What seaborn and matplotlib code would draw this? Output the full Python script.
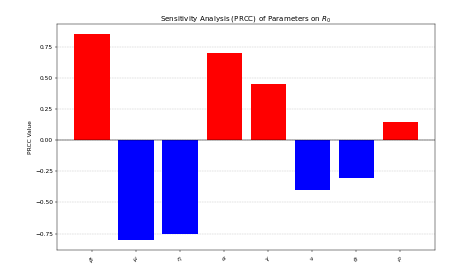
import matplotlib
matplotlib.use('Agg')
import matplotlib.pyplot as plt
import seaborn as sns

params = [r'$\beta$', r'$\mu$', r'$\eta$', r'$\alpha$', r'$\gamma$', r'$\nu$', r'$\theta$', r'$\rho$']
prcc = [0.85, -0.80, -0.75, 0.70, 0.45, -0.40, -0.30, 0.15]
colors = ['red' if v > 0 else 'blue' for v in prcc]

dpi = 42.4
fig, ax = plt.subplots(figsize=(461 / dpi, 277 / dpi), dpi=dpi)
sns.barplot(x=params, y=prcc, hue=params, palette=colors, saturation=1,
            legend=False, ax=ax)
ax.axhline(0, color='black', linewidth=0.8)
ax.set_title('Sensitivity Analysis (PRCC) of Parameters on $R_0$')
ax.set_ylabel('PRCC Value')
ax.tick_params(axis='x', rotation=45)
ax.grid(axis='y', linestyle='--', alpha=0.7)
ax.set_axisbelow(True)

# matplotlib-style 5% margins instead of seaborn's fixed category limits
span = len(params) - 1 + 0.8
ax.set_xlim(-0.4 - 0.05 * span, len(params) - 1 + 0.4 + 0.05 * span)

fig.subplots_adjust(left=0.124, right=0.944, top=0.913, bottom=0.097)
plt.savefig('out.png', dpi=dpi)
